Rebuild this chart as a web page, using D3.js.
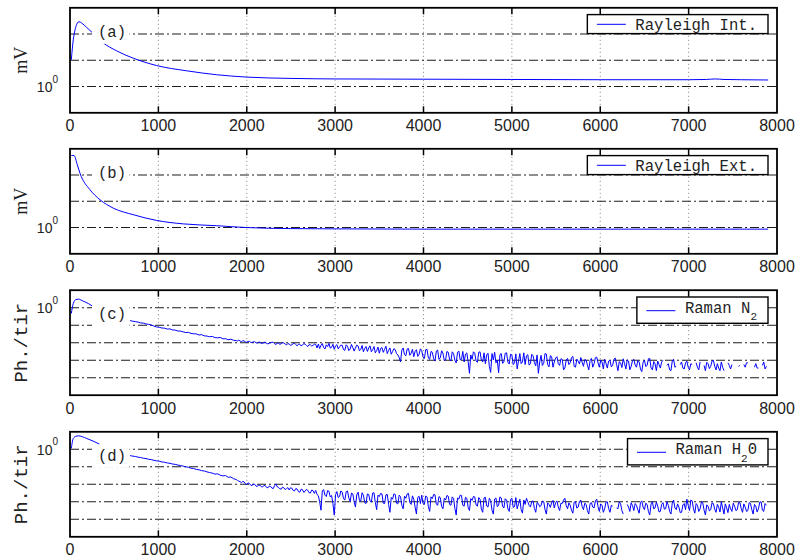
<!DOCTYPE html>
<html><head><meta charset="utf-8">
<script src="https://cdn.jsdelivr.net/npm/d3@7"></script>
<style>body{margin:0;background:#fff}svg{display:block}</style>
</head><body><svg id="chart" width="795" height="559"></svg>
<script>
// ---------------- DATA ----------------
const xTickValues = [0,1000,2000,3000,4000,5000,6000,7000,8000];
const panelLabels = ["(a)","(b)","(c)","(d)"];
const yLabels = ["mV","mV","Ph./tir","Ph./tir"];

// (a) Rayleigh Int. : range (m) and log10(signal, mV)
const rayIntRange = [15,37,57,83,102,132,189,264,370,528,716,981,1320,1660,2000,2500,3000,4000,5000,6000,7000,7200,7300,7400,7600,7900];
const rayIntLog10 = [1.02,1.78,2.16,2.42,2.47,2.42,2.25,2.02,1.68,1.36,1.08,0.80,0.60,0.45,0.36,0.31,0.29,0.28,0.27,0.26,0.26,0.27,0.29,0.27,0.26,0.25];

// (b) Rayleigh Ext.
const rayExtRange = [15,45,83,113,226,339,490,716,981,1282,1660,2000,2500,3000,4000,5000,6000,7000,7900];
const rayExtLog10 = [2.745,2.745,2.39,2.07,1.44,1.06,0.74,0.49,0.27,0.14,0.07,0.0,-0.04,-0.05,-0.06,-0.06,-0.06,-0.06,-0.06];

// (c) Raman N2 near-range part
const n2HeadRange = [15,37,68,94,151,207,264];
const n2HeadLog10 = [-0.33,0.24,0.47,0.49,0.37,0.24,0.05];
// (d) Raman H2O near-range part
const h2oHeadRange = [15,37,68,94,189,332];
const h2oHeadLog10 = [0.05,0.62,0.75,0.77,0.62,0.30];

// mid-range profiles: 680 m .. 1850 m every 30 m (log10 of Ph./tir)
const midStart = 680, midStep = 30;
const n2MidLog10 = [
-0.74,-0.77,-0.80,-0.82,-0.87,-0.88,-0.93,-0.95,-0.99,-1.05,
-1.10,-1.12,-1.16,-1.17,-1.22,-1.21,-1.27,-1.28,-1.33,-1.34,
-1.38,-1.42,-1.41,-1.47,-1.49,-1.50,-1.56,-1.54,-1.61,-1.62,
-1.66,-1.64,-1.71,-1.72,-1.70,-1.78,-1.77,-1.83,-1.80,-1.86];
const h2oMidLog10 = [
-0.36,-0.39,-0.41,-0.45,-0.47,-0.51,-0.53,-0.57,-0.59,-0.63,
-0.66,-0.68,-0.72,-0.74,-0.78,-0.80,-0.84,-0.86,-0.90,-0.93,
-0.96,-1.00,-1.03,-1.08,-1.10,-1.15,-1.17,-1.22,-1.24,-1.29,
-1.33,-1.36,-1.42,-1.40,-1.48,-1.52,-1.50,-1.60,-1.58,-1.68];

// far-range profiles: 1880 m .. 7880 m every 15 m (log10 of Ph./tir); null = non-positive value (gap on log axis)
const farStart = 1880, farStep = 15;
const n2FarLog10 = [
-1.88,-1.90,-1.85,-1.91,-1.93,-1.89,-1.90,-1.96,-1.97,-1.93,-1.92,-1.98,-1.99,-1.95,-1.94,-2.01,-2.02,-1.97,-1.97,-2.04,
-2.03,-1.99,-1.96,-2.05,-2.07,-2.02,-2.01,-1.97,-1.98,-2.06,-2.10,-2.03,-2.04,-2.09,-2.06,-2.00,-2.01,-2.08,-2.13,-2.05,
-2.07,-2.15,-2.12,-2.06,-2.03,-2.11,-2.18,-2.09,-2.10,-2.17,-2.14,-2.05,-2.08,-2.16,-2.22,-2.11,-2.12,-2.19,-2.15,-2.09,
-2.10,-2.30,-2.08,-2.33,-2.15,-2.05,-2.28,-2.36,-2.12,-2.22,-2.04,-2.31,-2.26,-2.09,-2.38,-2.18,-2.11,-2.35,-2.24,-2.14,
-2.15,-2.40,-2.44,-2.12,-2.20,-2.45,-2.36,-2.10,-2.28,-2.48,-2.30,-2.14,-2.19,-2.46,-2.38,-2.16,-2.52,-2.33,-2.22,-2.50,
-2.30,-2.18,-2.52,-2.40,-2.22,-2.58,-2.45,-2.25,-2.60,-2.32,-2.28,-2.55,-2.38,-2.20,-2.62,-2.44,-2.30,-2.66,-2.50,-2.34,
-2.40,-2.62,-2.70,-2.85,-3.10,-2.42,-2.30,-2.68,-2.75,-2.36,-2.33,-2.72,-2.60,-2.38,-2.80,-2.50,-2.40,-2.78,-2.66,-2.35,
-2.45,-2.82,-2.90,-2.40,-2.38,-2.88,-2.95,-2.50,-2.55,-2.92,-3.05,-2.48,-2.42,-2.95,-2.86,-2.46,-2.60,-3.02,-2.98,-2.50,
-2.55,-2.95,-3.05,-2.52,-2.62,-3.00,-3.15,-2.55,-2.48,-2.98,-2.95,-2.50,-3.10,-2.65,-2.58,-3.08,-3.75,-2.70,-2.95,-2.52,
-2.60,-3.05,-3.12,-2.55,-2.52,-3.00,-3.10,-2.58,-3.20,-2.70,-2.60,-3.35,-3.70,-2.62,-2.98,-2.55,-3.15,-3.00,-3.72,-2.68,
-2.62,-3.18,-3.10,-2.60,-2.58,-3.12,-3.22,-2.66,-2.70,-3.25,-3.15,-2.64,-3.50,-3.05,-2.62,-3.20,-3.10,-2.58,-3.25,-2.75,
-2.68,-3.28,-3.20,-2.66,-2.75,-3.15,-3.32,-2.70,-3.75,-3.10,-2.72,-3.30,-3.18,-2.62,-2.65,-3.25,-3.38,-2.74,-2.80,-3.40,
-3.10,-2.88,-2.80,-3.20,-3.30,-2.92,-2.95,-3.55,-3.45,-2.98,-2.90,-3.25,-3.15,-2.85,-2.78,-3.35,-3.40,-2.94,-3.05,-3.22,
-2.85,-3.12,-3.35,-2.96,-3.00,-3.28,-3.55,-3.02,-2.90,-3.40,-3.20,-2.86,-2.82,-3.15,-3.40,-3.00,-3.10,-3.50,-2.95,-3.18,
-3.45,-3.05,-3.00,-3.38,-3.30,-2.94,-2.88,-3.25,-3.60,-3.08,-3.15,-3.42,-2.92,-3.20,-3.50,-2.98,-3.05,-3.55,-3.35,-3.02,
-2.95,-3.28,-3.40,-3.02,-3.10,-3.50,-3.65,-3.12,-3.00,-3.36,-3.30,-2.92,-2.90,-3.45,-3.55,-3.08,-3.20,-3.60,-3.05,-3.25,
-3.45,-3.10,-3.00,null,null,-3.30,-3.20,-3.55,-3.60,-3.05,-2.95,-3.40,-3.35,null,null,-3.25,-3.10,-3.45,-3.50,-3.15,
-3.05,-3.40,-3.55,-3.20,-3.25,null,null,-3.15,-3.40,-3.55,-3.10,null,null,-3.30,-3.60,-3.12,-3.20,-3.48,-3.35,-3.05,
-3.00,-3.35,-3.55,-3.20,-3.45,-3.60,-3.10,-3.40,-3.60,null,null,-3.15,-3.30,-3.50,-3.25,null,null,null,null,-3.35,
-3.30,null,null,-3.25,-3.40,-3.15,-3.15,null,null,null,null,-3.40,-3.20,-3.45,-3.45,null,null,-3.30,-3.10,-3.50,-3.35];
const h2oFarLog10 = [
-1.72,-1.78,-1.82,-1.85,-1.90,-1.84,-1.86,-1.97,-2.02,-1.92,-1.95,-2.05,-2.08,-1.99,-2.00,-2.10,-2.12,-2.04,-2.05,-2.14,
-2.15,-2.06,-2.08,-2.18,-2.20,-2.10,-2.12,-2.22,-2.24,-2.08,-1.98,-2.14,-2.18,-2.26,-2.28,-2.16,-2.20,-2.30,-2.25,-2.19,
-2.32,-2.20,-2.22,-2.35,-2.38,-2.24,-2.27,-2.42,-2.45,-2.28,-2.30,-2.46,-2.40,-2.29,-2.34,-2.48,-2.50,-2.33,-2.36,-2.52,
-2.35,-2.58,-2.65,-3.00,-3.48,-2.38,-2.30,-2.62,-2.70,-2.36,-2.40,-2.72,-2.64,-3.10,-3.76,-2.60,-2.42,-2.76,-2.70,-2.38,
-2.45,-2.82,-2.90,-2.42,-2.38,-2.78,-2.98,-2.50,-2.55,-3.00,-3.30,-2.60,-2.45,-2.92,-2.96,-2.48,-2.62,-3.05,-3.10,-2.55,
-2.58,-2.95,-3.02,-2.50,-2.48,-3.05,-3.45,-2.62,-2.70,-2.52,-2.55,-3.08,-3.10,-2.60,-2.58,-3.15,-3.60,-2.75,-2.85,-2.55,
-2.58,-3.08,-3.12,-2.62,-2.70,-3.20,-3.40,-2.68,-2.80,-2.55,-2.52,-3.05,-3.15,-2.66,-2.85,-3.30,-3.70,-2.75,-2.68,-3.10,
-2.62,-3.10,-3.15,-2.66,-2.74,-3.28,-3.55,-2.72,-2.82,-2.58,-2.60,-3.12,-3.20,-2.70,-2.76,-3.25,-3.40,-2.80,-2.90,-2.64,
-2.68,-3.15,-3.20,-2.72,-2.80,-3.38,-3.75,-2.78,-2.85,-2.62,-2.64,-3.20,-3.25,-2.74,-2.80,-3.32,-3.50,-2.82,-2.92,-2.70,
-2.72,-3.18,-3.25,-2.76,-2.85,-3.42,-3.60,-2.78,-2.74,-3.24,-3.30,-2.80,-2.92,-3.48,-3.70,-2.84,-2.78,-3.28,-3.20,-2.72,
-2.78,-3.25,-3.35,-2.82,-2.90,-3.40,-3.55,-2.86,-2.80,-3.32,-3.28,-2.76,-3.40,-3.12,-2.85,-3.45,-3.65,-2.90,-3.15,-2.80,
-3.00,-3.20,-3.30,-2.98,-2.95,-3.38,-3.60,-3.04,-3.10,-3.28,-3.22,-2.96,-2.98,-3.45,-3.70,-3.06,-3.15,-3.32,-3.05,-2.92,
-3.35,-3.05,-2.95,-3.30,-3.50,-3.08,-3.10,-2.90,-2.80,-3.22,-3.40,-3.06,-3.20,-3.48,-3.65,-3.02,-3.00,-3.36,-3.30,-2.98,
-2.90,-3.25,-3.45,-3.08,-3.15,-3.50,-3.70,-3.10,-3.05,-3.30,-3.35,-2.95,-2.85,-3.28,-3.55,-3.12,-3.20,-3.60,-3.40,-3.02,
-3.00,-3.38,-3.60,-3.20,-3.25,null,null,-3.35,-3.40,-3.00,-3.10,-3.50,-3.70,null,null,-3.15,-3.30,-3.55,-3.05,-3.22,
-3.50,-3.10,-3.20,-3.45,-3.65,-3.05,-2.95,-3.30,-3.45,-3.08,-3.15,-3.55,-3.75,-3.12,-3.00,-3.40,-3.35,-3.02,-3.25,-3.58,
-3.55,-3.15,-3.05,-3.42,-3.40,-3.00,-3.20,-3.55,-3.70,-3.08,-2.90,-3.35,-3.45,-3.12,-3.30,-3.62,-3.60,-3.18,-3.10,-3.45,
-2.85,-3.20,-3.50,-2.90,-2.95,-3.40,-3.65,-3.10,-3.20,-3.55,-3.40,-3.00,-3.05,-3.48,-3.75,-3.18,-3.25,-3.52,-3.45,-3.06,
-3.10,-3.42,-3.60,-3.15,-3.30,-3.58,-3.00,-3.35,-3.70,-3.12,-3.35,-3.62,-3.15,-3.40,-3.55,-3.08,-3.25,-3.50,-3.45,-3.05,
-3.05,-3.38,-3.60,-3.12,-3.30,-3.55,-3.50,-3.05,-3.10,-3.45,-3.70,-3.15,-3.25,-3.58,-3.40,-3.02,-3.00,-3.48,-3.55,-3.10,-3.20];

// ---------------- LAYOUT ----------------
const svg = d3.select("#chart");
const L = 70, R = 777, PH = 105;
const tops = [7.8, 148.8, 290.2, 431.8];
const x = d3.scaleLinear().domain([0, 8000]).range([L, R]);
const midRange = n2MidLog10.map((_, i) => midStart + i * midStep);
const farRange = n2FarLog10.map((_, i) => farStart + i * farStep);
const restRange = midRange.concat(farRange);

const panels = [
  {series: [{r: rayIntRange, v: rayIntLog10, smooth: true}], dom: [-1, 3], grid: [0, 1, 2],
   legend: [{t: "Rayleigh Int."}], legendTall: false},
  {series: [{r: rayExtRange, v: rayExtLog10, smooth: true}], dom: [-1, 3], grid: [0, 1, 2],
   legend: [{t: "Rayleigh Ext."}], legendTall: false},
  {series: [{r: n2HeadRange, v: n2HeadLog10, smooth: true}, {r: restRange, v: n2MidLog10.concat(n2FarLog10), smooth: false}],
   dom: [-5, 1], grid: [0, -1, -2, -3, -4],
   legend: [{t: "Raman N"}, {t: "2", sub: true}], legendTall: true},
  {series: [{r: h2oHeadRange, v: h2oHeadLog10, smooth: true}, {r: restRange, v: h2oMidLog10.concat(h2oFarLog10), smooth: false}],
   dom: [-5, 1], grid: [0, -1, -2, -3, -4],
   legend: [{t: "Raman H"}, {t: "2", sub: true}, {t: "0", sup: true}], legendTall: true}
];

const MONO = '"Liberation Mono", "DejaVu Sans Mono", monospace';
const SANS = '"Liberation Sans", Arial, sans-serif';
const SERIF = '"Liberation Serif", "Times New Roman", serif';

panels.forEach((p, k) => {
  const top = tops[k], bot = top + PH;
  const y = d3.scaleLinear().domain(p.dom).range([bot, top]);
  const g = svg.append("g");

  g.append("clipPath").attr("id", "clip" + k).append("rect")
    .attr("x", L).attr("y", top).attr("width", R - L).attr("height", PH);

  // vertical dotted grid
  g.selectAll(".vg").data(xTickValues.slice(1, -1)).enter().append("line")
    .attr("x1", d => x(d)).attr("x2", d => x(d)).attr("y1", top).attr("y2", bot)
    .attr("stroke", "#808080").attr("stroke-width", 1).attr("stroke-dasharray", "1,3");
  // horizontal dash-dot grid
  g.selectAll(".hg").data(p.grid).enter().append("line")
    .attr("x1", L).attr("x2", R).attr("y1", d => y(d)).attr("y2", d => y(d))
    .attr("stroke", "#1e1e1e").attr("stroke-width", 1.1).attr("stroke-dasharray", "9,3,2,3");

  // data
  p.series.forEach(s => {
    const pts = s.r.map((r, i) => [r, s.v[i]]);
    const line = d3.line().defined(d => d[1] !== null)
      .x(d => x(d[0])).y(d => y(d[1]))
      .curve(s.smooth ? d3.curveMonotoneX : d3.curveLinear);
    g.append("path").datum(pts).attr("d", line).attr("fill", "none")
      .attr("stroke", "#0000ff").attr("stroke-width", 1).attr("clip-path", "url(#clip" + k + ")");
  });

  // panel label with white background
  const lb = top + 29;
  g.append("rect").attr("x", 92).attr("y", lb - 14).attr("width", 37.5).attr("height", 21).attr("fill", "#fff");
  g.append("text").attr("x", 98).attr("y", lb).text(panelLabels[k])
    .style("font", "15.6px " + MONO).attr("fill", "#222");

  // legend
  const lt = g.append("text").attr("y", top + 22.5).style("font", "15.6px " + MONO).attr("fill", "#222");
  p.legend.forEach(part => {
    const ts = lt.append("tspan").text(part.t);
    if (part.sub) ts.attr("dy", 7.5).style("font-size", "11px");
    if (part.sup) ts.attr("dy", -7.5);
  });
  const tw = lt.node().getComputedTextLength();
  const tx = 768 - 11 - tw;
  lt.attr("x", tx);
  const bh = p.legendTall ? 26.3 : 19;
  g.insert("rect", function() { return lt.node(); })
    .attr("x", tx - 48).attr("y", top + 6.8).attr("width", 768 - (tx - 48)).attr("height", bh)
    .attr("fill", "#fff").attr("stroke", "#000").attr("stroke-width", 1.4);
  const ly = top + (p.legendTall ? 20.5 : 16.5);
  g.insert("line", function() { return lt.node(); })
    .attr("x1", tx - 38.5).attr("x2", tx - 9.5).attr("y1", ly).attr("y2", ly)
    .attr("stroke", "#0000ff").attr("stroke-width", 1);

  // frame
  g.append("rect").attr("x", L).attr("y", top).attr("width", R - L).attr("height", PH)
    .attr("fill", "none").attr("stroke", "#000").attr("stroke-width", 1.8);

  // x ticks (inward, bottom and top)
  const xt = xTickValues.slice(1, -1);
  g.selectAll(".xtb").data(xt).enter().append("line")
    .attr("x1", d => x(d)).attr("x2", d => x(d)).attr("y1", bot).attr("y2", bot - 6.5)
    .attr("stroke", "#000").attr("stroke-width", 1.5);
  g.selectAll(".xtt").data(xt).enter().append("line")
    .attr("x1", d => x(d)).attr("x2", d => x(d)).attr("y1", top).attr("y2", top + 6.5)
    .attr("stroke", "#000").attr("stroke-width", 1.5);

  // x tick labels
  g.selectAll(".xl").data(xTickValues).enter().append("text")
    .attr("x", d => x(d)).attr("y", bot + 18.3).attr("text-anchor", "middle")
    .style("font", "16px " + SANS).attr("fill", "#222").text(d => d3.format("d")(d));

  // y tick label 10^0
  const yl = g.append("text").attr("x", 58).attr("y", y(0) + 5.5).attr("text-anchor", "end")
    .style("font", "14px " + SANS).attr("fill", "#222");
  yl.append("tspan").text("10");
  yl.append("tspan").attr("dy", -9.5).style("font-size", "10px").text("0");

  // y axis label
  const isMono = yLabels[k] !== "mV";
  g.append("text").attr("transform", `translate(26.5,${(top + bot) / 2}) rotate(-90)`)
    .attr("text-anchor", "middle")
    .style("font", isMono ? "19px " + MONO : "18px " + SERIF)
    .attr("fill", "#222").text(yLabels[k]);
});
</script></body></html>
